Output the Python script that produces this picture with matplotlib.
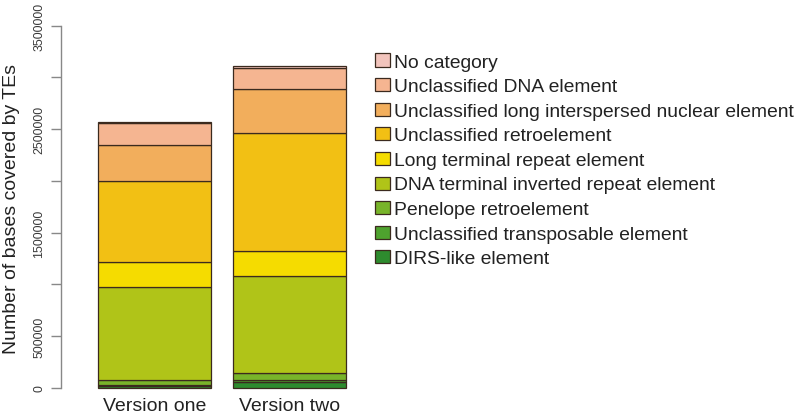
import matplotlib
matplotlib.use("Agg")
import matplotlib.pyplot as plt
from matplotlib.patches import Rectangle
import numpy as np

plt.rcParams['font.family'] = ['Liberation Sans', 'DejaVu Sans']

versions = ["Version one", "Version two"]
# stacked from bottom to top
categories = ["DIRS-like element",
              "Unclassified transposable element",
              "Penelope retroelement",
              "DNA terminal inverted repeat element",
              "Long terminal repeat element",
              "Unclassified retroelement",
              "Unclassified long interspersed nuclear element",
              "Unclassified DNA element",
              "No category"]
values_one = [15000, 10000, 50000, 899000, 238000, 784000, 351000, 213000, 12000]
values_two = [55000, 17000, 67000, 938000, 242000, 1141000, 425000, 203000, 19000]
colors = ["#2E8B2E", "#4EA22E", "#78B42A", "#B0C418", "#F5DC00",
          "#F2C014", "#F2AE5C", "#F5B591", "#F2C4BC"]
ytick_values = [0, 500000, 1000000, 1500000, 2000000, 2500000, 3000000, 3500000]
ytick_labels = ["0", "500000", "", "1500000", "", "2500000", "", "3500000"]

W, H = 799, 414
fig = plt.figure(figsize=(W / 100, H / 100), dpi=100)
fig.patch.set_facecolor("white")

# axes placement (pixels)
left_px, right_px = 61, 356
top_px, bottom_px = 26.7, 388.7
ax = fig.add_axes([left_px / W, (H - bottom_px) / H,
                   (right_px - left_px) / W, (bottom_px - top_px) / H])
ax.set_facecolor("none")

unit_px = 112.7
x0_px = 75.5
ax.set_xlim((left_px - x0_px) / unit_px, (right_px - x0_px) / unit_px)
ax.set_ylim(0, 3500000)

centers = [0.7, 1.9]
data = np.array([values_one, values_two])
bottoms = np.zeros(len(versions))
for j, cat in enumerate(categories):
    ax.bar(centers, data[:, j], width=1.0, bottom=bottoms, color=colors[j],
           edgecolor="#3b2a1e", linewidth=0.9, clip_on=False)
    bottoms += data[:, j]

for s in ["top", "right", "bottom"]:
    ax.spines[s].set_visible(False)
ax.spines["left"].set_color("#888888")
ax.spines["left"].set_linewidth(1.0)

ax.set_yticks(ytick_values)
ax.set_yticklabels(ytick_labels, rotation=90, va="center", fontsize=8.9,
                   color="#3a3a3a")
ax.tick_params(axis="y", length=7.5, width=1.0, color="#888888", pad=4)

ax.set_xticks(centers)
ax.set_xticklabels(versions, fontsize=14, color="#222222")
ax.tick_params(axis="x", length=0, pad=7)

fig.text(11.5 / W, (H - 209) / H, "Number of bases covered by TEs",
         rotation=90, ha="center", va="center", fontsize=14, color="#222222")

# legend (top to bottom reversed stacking order)
sq_w, sq_h = 14.5, 13
for i, j in enumerate(range(len(categories) - 1, -1, -1)):
    yc = 61 + i * 24.6
    fig.add_artist(Rectangle(((375) / W, (H - yc - sq_h / 2) / H), sq_w / W, sq_h / H,
                             transform=fig.transFigure, facecolor=colors[j],
                             edgecolor="#3b2a1e", linewidth=0.9))
    fig.text(393.5 / W, (H - yc) / H, categories[j], ha="left", va="center_baseline",
             fontsize=13.9, color="#222222")

fig.savefig("out.png", dpi=100)
